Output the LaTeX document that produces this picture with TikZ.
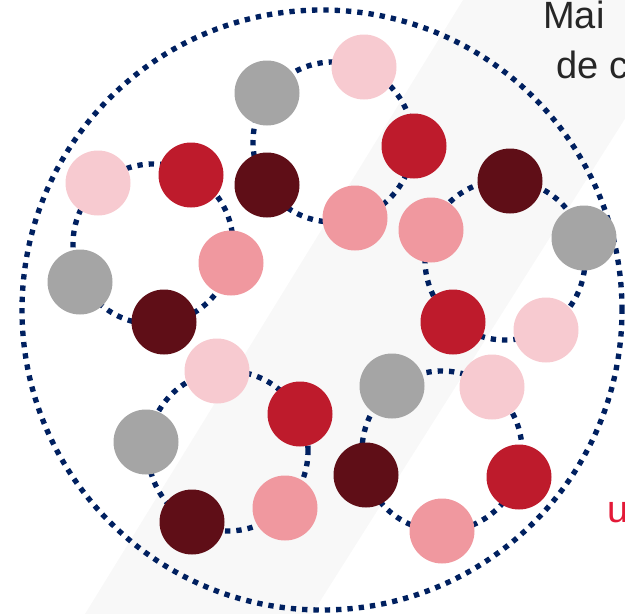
\documentclass[tikz,border=0pt]{standalone}
\usepackage{fontspec}
\setmainfont{Liberation Sans}
\definecolor{navy}{HTML}{002060}
\definecolor{rose}{HTML}{F7CAD0}
\definecolor{crimson}{HTML}{BE1B2C}
\definecolor{salmon}{HTML}{F0989F}
\definecolor{maroon}{HTML}{5F0E17}
\definecolor{stone}{HTML}{A5A5A5}
\definecolor{band}{HTML}{F8F8F8}
\definecolor{ink}{HTML}{262626}
\definecolor{accent}{HTML}{E31937}
\begin{document}
\begin{tikzpicture}[x=0.75pt,y=-0.75pt,
  ring/.style={draw=navy,line width=4pt,dash pattern=on 4pt off 4.5pt},
  ball/.style={circle,inner sep=0pt,minimum size=48.75pt,draw=none},
  label/.style={inner sep=0pt,font=\fontsize{28.5}{34}\selectfont}]
\useasboundingbox (0,0) rectangle (625,614);
% light diagonal band behind everything
\fill[band] (85,614) -- (463,0) -- (700,0) -- (312,614) -- cycle;

% outer boundary
\coordinate (outer) at (322,310);
\draw[ring] (outer) circle (225pt);

% centres of the five rings
\coordinate (ga) at (333,142);
\coordinate (gb) at (153,244);
\coordinate (gc) at (505,260);
\coordinate (gd) at (228,451);
\coordinate (ge) at (442,451);
\foreach \g in {ga,gb,gc,gd,ge} \draw[ring] (\g) circle (60pt);

% ring a
\node[ball,fill=stone]   (a1) at (267,93)  {};
\node[ball,fill=rose]    (a2) at (364,67)  {};
\node[ball,fill=crimson] (a3) at (414,146) {};
\node[ball,fill=salmon]  (a4) at (355,218) {};
\node[ball,fill=maroon]  (a5) at (267,185) {};
% ring b
\node[ball,fill=rose]    (b1) at (98,183)  {};
\node[ball,fill=crimson] (b2) at (191,175) {};
\node[ball,fill=salmon]  (b3) at (231,263) {};
\node[ball,fill=maroon]  (b4) at (164,322) {};
\node[ball,fill=stone]   (b5) at (80,282)  {};
% ring c
\node[ball,fill=maroon]  (c1) at (510,181) {};
\node[ball,fill=stone]   (c2) at (584,238) {};
\node[ball,fill=rose]    (c3) at (546,330) {};
\node[ball,fill=crimson] (c4) at (453,322) {};
\node[ball,fill=salmon]  (c5) at (431,230) {};
% ring d
\node[ball,fill=rose]    (d1) at (217,371) {};
\node[ball,fill=crimson] (d2) at (300,414) {};
\node[ball,fill=salmon]  (d3) at (285,508) {};
\node[ball,fill=maroon]  (d4) at (192,522) {};
\node[ball,fill=stone]   (d5) at (146,442) {};
% ring e
\node[ball,fill=stone]   (e1) at (392,386) {};
\node[ball,fill=rose]    (e2) at (492,387) {};
\node[ball,fill=crimson] (e3) at (519,477) {};
\node[ball,fill=salmon]  (e4) at (442,531) {};
\node[ball,fill=maroon]  (e5) at (366,475) {};

% captions running off the right edge
\node[label,anchor=base west,text=ink] (t1) at (543,28) {Mai};
\node[label,anchor=base west,text=ink] (t2) at (556,78) {de c};
\node[label,anchor=base west,text=accent] (t3) at (607,522) {u};
\end{tikzpicture}
\end{document}
